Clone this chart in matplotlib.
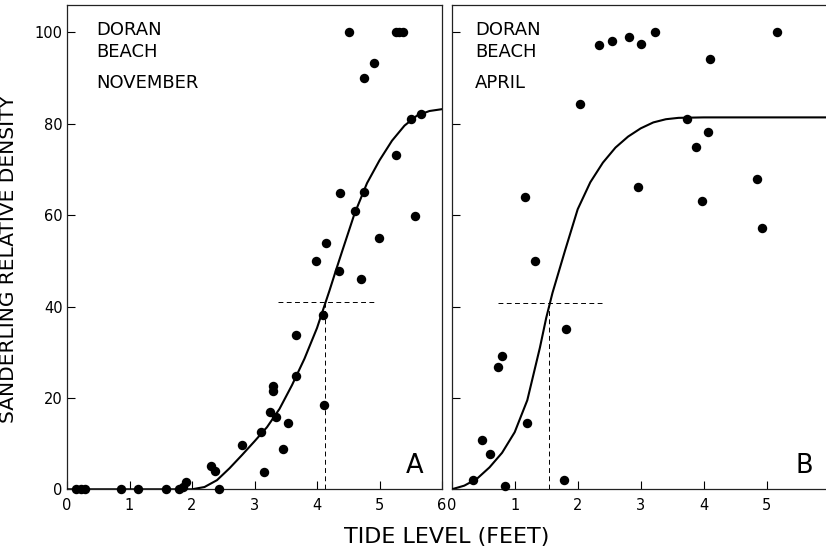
import matplotlib
matplotlib.use("Agg")
import matplotlib.pyplot as plt

# ---- November survey (panel A) ----
nov_tide = [0.15, 0.22, 0.28, 0.87, 1.14, 1.59, 1.79, 1.85, 1.90, 2.30, 2.37, 2.43,
            2.80, 3.10, 3.15, 3.25, 3.29, 3.30, 3.35, 3.45, 3.53, 3.66, 3.66, 4.09,
            4.11, 3.99, 4.15, 4.35, 4.36, 4.61, 4.70, 4.75, 4.99, 5.26, 5.51, 5.67,
            5.57, 4.75, 4.91, 4.51, 5.26, 5.31, 5.37]
nov_density = [0, 0, 0, 0, 0, 0, 0, 0.4, 1.5, 5.0, 4.0, 0,
               9.7, 12.6, 3.8, 16.9, 22.7, 21.6, 15.8, 8.8, 14.5, 24.8, 33.8, 38.1,
               18.5, 49.9, 53.8, 47.7, 64.9, 60.9, 46.1, 65.0, 55.0, 73.1, 81.1, 82.1,
               59.9, 90.1, 93.2, 100, 100, 100, 100]

# fitted curve, November
nov_fit_tide = [0.0, 1.0, 2.0, 2.2, 2.4, 2.6, 2.8, 3.0, 3.2, 3.4, 3.6, 3.8, 4.0,
                4.1, 4.2, 4.3, 4.4, 4.6, 4.8, 5.0, 5.2, 5.4, 5.6, 5.8, 6.0]
nov_fit_density = [0.0, 0.0, 0.0, 0.5, 2.0, 4.6, 7.5, 10.5, 13.6, 17.6, 22.8, 28.6, 35.3,
                   39.4, 43.5, 47.8, 52.0, 60.3, 67.0, 72.0, 76.3, 79.6, 81.8, 82.8, 83.2]

# half-level guide, November
nov_half_density = 41.0
nov_half_tide = 4.12
nov_guide_span = (3.38, 4.96)

# ---- April survey (panel B) ----
apr_tide = [0.34, 0.48, 0.61, 0.73, 0.80, 0.85, 1.17, 1.20, 1.32, 1.78, 1.81, 2.03,
            2.34, 2.54, 2.81, 3.00, 3.22, 2.96, 3.73, 3.87, 4.07, 3.97, 4.10, 4.84,
            4.92, 5.16]
apr_density = [2.0, 10.7, 7.7, 26.8, 29.2, 0.7, 64.0, 14.6, 50.0, 2.0, 35.1, 84.3,
               97.3, 98.2, 99.0, 97.4, 100, 66.1, 81.0, 75.0, 78.1, 63.2, 94.1, 67.9,
               57.1, 100]

# fitted curve, April
apr_fit_tide = [0.0, 0.2, 0.4, 0.6, 0.8, 1.0, 1.2, 1.4, 1.5, 1.6, 1.8, 2.0, 2.2,
                2.4, 2.6, 2.8, 3.0, 3.2, 3.4, 3.6, 4.0, 5.0, 6.0]
apr_fit_density = [0.0, 0.8, 2.3, 4.8, 8.0, 12.5, 19.5, 31.0, 37.5, 43.0, 52.3, 61.3, 67.2,
                   71.5, 74.8, 77.2, 79.0, 80.3, 81.0, 81.3, 81.4, 81.4, 81.4]

# half-level guide, April
apr_half_density = 40.8
apr_half_tide = 1.55
apr_guide_span = (0.74, 2.38)

x_ticks = [0, 1, 2, 3, 4, 5, 6]
x_tick_labels_a = ["0", "1", "2", "3", "4", "5", "6"]
x_tick_labels_b = ["0", "1", "2", "3", "4", "5", ""]
y_ticks = [0, 20, 40, 60, 80, 100]

site_lines = ["DORAN", "BEACH"]
months = ["NOVEMBER", "APRIL"]
panel_letters = ["A", "B"]
x_label = "TIDE LEVEL (FEET)"
y_label = "SANDERLING RELATIVE DENSITY"

W, H = 826, 551
fig = plt.figure(figsize=(W / 100, H / 100), dpi=100)
plt.rcParams["font.family"] = ["DejaVu Sans"]

ax_bottom = (H - 489.3) / H
ax_height = 484.3 / H
axA = fig.add_axes([67 / W, ax_bottom, 375 / W, ax_height])
axB = fig.add_axes([451.7 / W, ax_bottom, 378 / W, ax_height])

panels = [
    (axA, nov_tide, nov_density, nov_fit_tide, nov_fit_density,
     nov_half_density, nov_half_tide, nov_guide_span, 0.0773, 0.927,
     x_tick_labels_a),
    (axB, apr_tide, apr_density, apr_fit_tide, apr_fit_density,
     apr_half_density, apr_half_tide, apr_guide_span, 0.0616, 0.933,
     x_tick_labels_b),
]

for i, (ax, tx, dy, ftx, fdy, hd, ht, span, text_x, letter_x, xlabels) in enumerate(panels):
    ax.set_xlim(0, 6)
    ax.set_ylim(0, 106)
    ax.plot(ftx, fdy, color="black", lw=1.5, solid_capstyle="round",
            solid_joinstyle="round", zorder=3)
    ax.plot(tx, dy, "o", color="black", ms=6.8, mew=0, zorder=4, clip_on=False)
    ax.plot(span, [hd, hd], color="black", lw=0.7, dashes=(5, 3.5), zorder=2)
    ax.plot([ht, ht], [0, hd], color="black", lw=0.7, dashes=(5, 3.5), zorder=2)

    ax.set_xticks(x_ticks)
    ax.set_xticklabels(xlabels)
    ax.set_yticks(y_ticks)
    ax.tick_params(axis="x", direction="in", length=6, width=0.8, pad=6.3,
                   labelsize=10.5)
    ax.tick_params(axis="y", direction="in", length=6, width=0.8, pad=3,
                   labelsize=10.5)
    if i == 1:
        ax.tick_params(axis="y", labelleft=False)
    for sp in ax.spines.values():
        sp.set_linewidth(0.9)
        sp.set_color("#222222")

    ax.text(text_x, 0.938, site_lines[0], transform=ax.transAxes, fontsize=13,
            ha="left", va="baseline")
    ax.text(text_x, 0.893, site_lines[1], transform=ax.transAxes, fontsize=13,
            ha="left", va="baseline")
    ax.text(text_x, 0.828, months[i], transform=ax.transAxes, fontsize=13,
            ha="left", va="baseline")
    ax.text(letter_x, 0.034, panel_letters[i], transform=ax.transAxes,
            fontsize=18.5, ha="center", va="baseline")

fig.text(446.7 / W, (H - 537.5) / H, x_label, fontsize=16, ha="center",
         va="center")
fig.text(8.5 / W, (H - 259) / H, y_label, fontsize=14.5, rotation=90,
         ha="center", va="center")

fig.savefig("out.png", dpi=100)
